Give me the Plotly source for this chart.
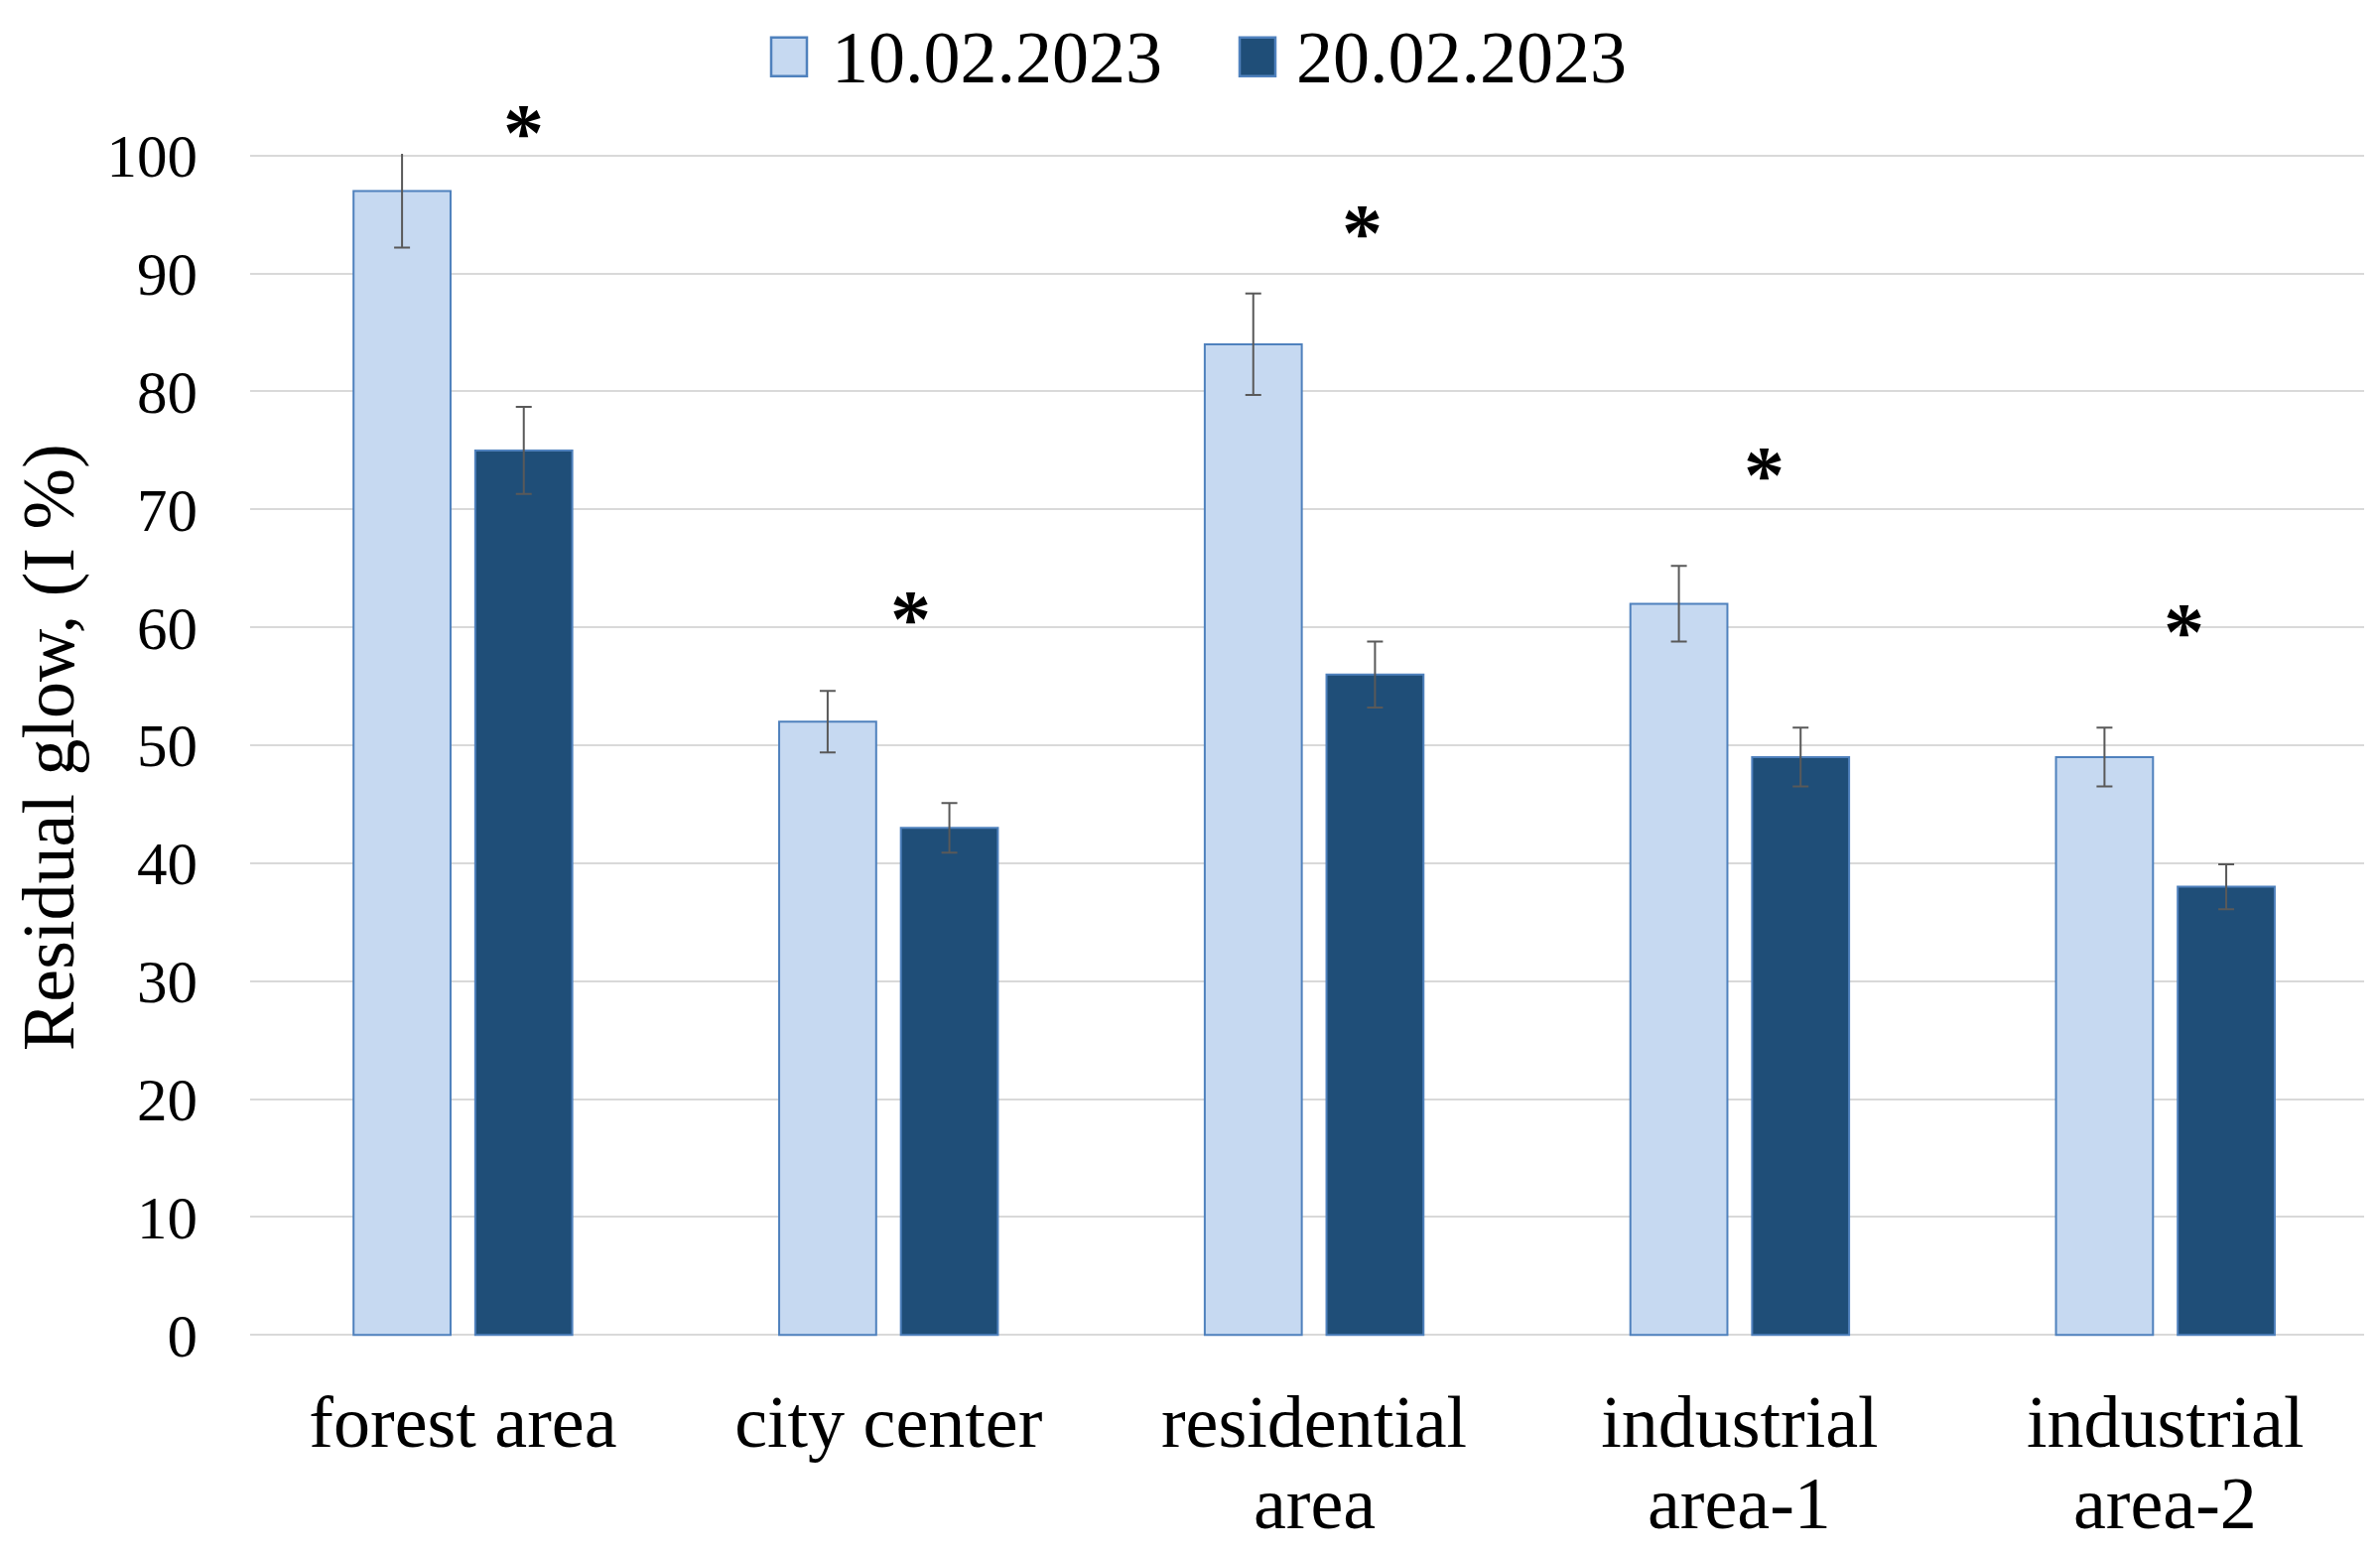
import plotly.graph_objects as go

categories = ["forest area", "city center", "residential<br>area", "industrial<br>area-1", "industrial<br>area-2"]
series_names = ["10.02.2023", "20.02.2023"]
values_1002 = [97, 52, 84, 62, 49]
errors_1002 = [4.8, 2.6, 4.3, 3.2, 2.5]
values_2002 = [75, 43, 56, 49, 38]
errors_2002 = [3.7, 2.1, 2.8, 2.5, 1.9]
star_marks = ["*", "*", "*", "*", "*"]
star_levels = [102.7, 61.5, 94.2, 73.7, 60.4]
y_ticks = [0, 10, 20, 30, 40, 50, 60, 70, 80, 90, 100]
y_title = "Residual glow, (I %)"

# ---- layout-only settings ----
PAGE_OFF = 8                      # default body margin of the html page
W, H = 2398 - 2 * PAGE_OFF, 1565 - 2 * PAGE_OFF
Y_MIN, Y_MAX = -0.15, 100.15
X_RANGE = [-0.5, 4.467]
L = 252 - PAGE_OFF
R = W - (2382 - PAGE_OFF)
T = 157 - PAGE_OFF - 1.8
B = H - (1345 - PAGE_OFF) - 1.8
PW = W - L - R
PH = H - T - B
star_xshift = [61, 22, 48, 25, 19]
second_line_y = 1515              # page px, centre of the second label line
title_pos = (49, 753)             # page px, centre of the y-axis title box
FONT = "Liberation Serif, Times New Roman, serif"
FILL = ["#C6D9F1", "#1F4E78"]
EDGE = "#4F81BD"


def px_x(px):
    return (px - PAGE_OFF - L) / PW


def px_y(py):
    return (H - B - (py - PAGE_OFF)) / PH


def val_y(v):
    return (v - Y_MIN) / (Y_MAX - Y_MIN)


fig = go.Figure()
for name, vals, errs, fill in zip(series_names, [values_1002, values_2002],
                                  [errors_1002, errors_2002], FILL):
    fig.add_trace(go.Bar(
        name=name, x=categories, y=vals,
        marker=dict(color=fill, line=dict(color=EDGE, width=2)),
        error_y=dict(type="data", array=errs, color="#595959", thickness=2, width=8),
        showlegend=False,
    ))

for cat, mark, lvl, dx in zip(categories, star_marks, star_levels, star_xshift):
    fig.add_annotation(x=cat, y=val_y(lvl), xref="x", yref="paper", text="<b>" + mark + "</b>",
                       showarrow=False, xshift=dx, yshift=-9, yanchor="middle",
                       font=dict(family=FONT, size=82, color="black"))

# category labels: first line as tick text, further lines as text just below
first_lines = [c.split("<br>")[0] for c in categories]
for cat in categories:
    parts = cat.split("<br>")
    if len(parts) > 1:
        fig.add_annotation(x=cat, y=px_y(second_line_y), xref="x", yref="paper",
                           text="<br>".join(parts[1:]), showarrow=False,
                           xanchor="center", yanchor="middle",
                           font=dict(family=FONT, size=74, color="black"))

# y-axis title
fig.add_annotation(xref="paper", yref="paper", x=px_x(title_pos[0]), y=px_y(title_pos[1]),
                   text=y_title, textangle=-90, showarrow=False,
                   xanchor="center", yanchor="middle",
                   font=dict(family=FONT, size=74, color="black"))

# custom legend (large square swatches like the original)
legend_boxes = [(777, 813), (1249, 1285)]
legend_text_x = [836, 1304]
box_top, box_bot, text_mid = 38, 77, 58
for name, fill, (x0, x1), tx in zip(series_names, FILL, legend_boxes, legend_text_x):
    fig.add_shape(type="rect", xref="paper", yref="paper",
                  x0=px_x(x0), x1=px_x(x1), y0=px_y(box_bot), y1=px_y(box_top),
                  fillcolor=fill, line=dict(color=EDGE, width=2.5))
    fig.add_annotation(xref="paper", yref="paper", x=px_x(tx), y=px_y(text_mid),
                       xanchor="left", yanchor="middle", showarrow=False, text=name,
                       font=dict(family=FONT, size=74, color="black"))

fig.update_layout(
    width=W, height=H,
    paper_bgcolor="white", plot_bgcolor="white",
    margin=dict(l=L, r=R, t=T, b=B, autoexpand=False),
    barmode="group", bargap=0.428, bargroupgap=0.203,
    font=dict(family=FONT, color="black"),
    showlegend=False,
    xaxis=dict(type="category", range=X_RANGE, showgrid=False, showline=False, ticks="",
               automargin=False, tickvals=categories, ticktext=first_lines,
               tickfont=dict(family=FONT, size=74), ticklabelstandoff=36),
    yaxis=dict(range=[Y_MIN, Y_MAX], tickvals=y_ticks,
               showgrid=True, gridcolor="#D9D9D9", gridwidth=2, automargin=False,
               zeroline=False, showline=False, ticks="",
               tickfont=dict(family=FONT, size=61), ticklabelstandoff=52),
)

fig.write_html("out.html")
